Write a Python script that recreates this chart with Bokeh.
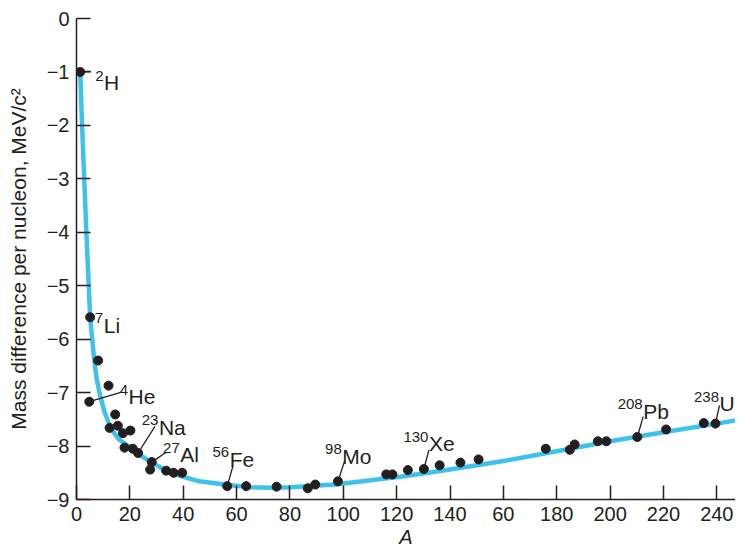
from bokeh.plotting import figure
from bokeh.models import FixedTicker, Range1d, ColumnDataSource
from bokeh.core.properties import value
from bokeh.embed import file_html
from bokeh.resources import INLINE

# ---- data ----
# measured nuclides: mass number A and mass difference per nucleon (MeV/c^2)
mass_A = [1.4, 5.1, 8.1, 4.8, 12.0, 12.4, 14.5, 15.5, 17.4, 20.2, 18.0, 21.1,
          23.1, 28.2, 27.6, 33.6, 36.4, 39.6, 56.5, 63.6, 75.0, 86.7, 89.5,
          98.0, 116.1, 118.4, 124.2, 130.2, 136.1, 143.9, 150.7, 175.9, 184.9,
          186.7, 195.4, 198.6, 210.2, 221.0, 235.1, 239.5]
mass_diff = [-1.0, -5.59, -6.40, -7.17, -6.87, -7.66, -7.41, -7.62, -7.76, -7.71,
             -8.03, -8.05, -8.13, -8.30, -8.44, -8.46, -8.50, -8.50, -8.75, -8.75,
             -8.76, -8.79, -8.72, -8.66, -8.53, -8.53, -8.45, -8.43, -8.36, -8.31,
             -8.25, -8.05, -8.07, -7.97, -7.91, -7.91, -7.83, -7.69, -7.57, -7.58]

# smooth trend curve
curve_A = [1.4, 2.1, 2.9, 3.7, 4.6, 5.1, 5.9, 6.6, 7.6, 8.6, 10.6, 13.1, 16.0,
           19.5, 23.1, 28.2, 35.0, 46.0, 57.0, 65.0, 72.0, 80.0, 97.0, 122.0,
           140.0, 160.0, 182.0, 200.0, 220.0, 240.0, 247.0]
curve_E = [-1.0, -2.0, -3.0, -4.0, -5.0, -5.59, -6.0, -6.38, -6.75, -7.0, -7.38,
           -7.69, -7.88, -8.0, -8.14, -8.31, -8.50, -8.66, -8.73, -8.77, -8.78,
           -8.77, -8.72, -8.57, -8.44, -8.28, -8.08, -7.91, -7.74, -7.58, -7.52]

# labelled nuclides
iso_mass = ["2", "7", "4", "23", "27", "56", "98", "130", "208", "238"]
iso_sym = ["H", "Li", "He", "Na", "Al", "Fe", "Mo", "Xe", "Pb", "U"]
iso_idx = [0, 1, 3, 12, 13, 18, 23, 27, 36, 39]

x_ticks = [0, 20, 40, 60, 80, 100, 120, 140, 160, 180, 200, 220, 240]
x_tick_labels = ["0", "20", "40", "60", "80", "100", "120", "140", "60",
                 "180", "200", "220", "240"]
y_ticks = [0, -1, -2, -3, -4, -5, -6, -7, -8, -9]
y_tick_labels = ["0", "\u22121", "\u22122", "\u22123", "\u22124", "\u22125",
                 "\u22126", "\u22127", "\u22128", "\u22129"]

# ---- layout of annotations (positions in data units) ----
lab_x = [10.3, 10.2, 19.5, 30.9, 38.9, 57.4, 99.6, 132.1, 212.4, 241.0]
lab_y = [-1.20, -5.74, -7.08, -7.65, -8.16, -8.25, -8.19, -7.96, -7.35, -7.21]
lead_x1 = [5.4, None, 16.9, 29.4, 33.5, 58.6, 100.5, 132.1, 212.4, 241.0]
lead_y1 = [-1.0, None, -6.99, -7.63, -8.12, -8.38, -8.28, -8.07, -7.45, -7.24]

INK = "#231F20"
BLUE = "#3DC2EE"
FONT = "Liberation Sans"

p = figure(width=735, height=553, output_backend="svg", toolbar_location=None,
           x_range=Range1d(0, 247), y_range=Range1d(-9, 0),
           min_border_left=76, min_border_right=0, min_border_top=18,
           min_border_bottom=54)
p.outline_line_color = None
p.grid.visible = False
p.background_fill_color = "white"
p.border_fill_color = "white"

for ax in (p.xaxis[0], p.yaxis[0]):
    ax.axis_line_color = INK
    ax.axis_line_width = 1.5
    ax.major_tick_line_color = INK
    ax.major_tick_line_width = 1.5
    ax.major_tick_in = 14
    ax.major_tick_out = 0
    ax.minor_tick_line_color = None
    ax.major_label_text_font = FONT
    ax.major_label_text_font_size = "20px"
    ax.major_label_text_color = INK

p.xaxis.ticker = FixedTicker(ticks=x_ticks)
p.xaxis.major_label_overrides = {t: l for t, l in zip(x_ticks, x_tick_labels)}
p.xaxis.major_label_standoff = 7
p.xaxis.axis_label = "A"
p.xaxis.axis_label_text_font = FONT
p.xaxis.axis_label_text_font_style = "italic"
p.xaxis.axis_label_text_font_size = "20px"
p.xaxis.axis_label_text_color = INK
p.xaxis.axis_label_standoff = 2

p.yaxis.ticker = FixedTicker(ticks=y_ticks)
p.yaxis.major_label_overrides = {t: l for t, l in zip(y_ticks, y_tick_labels)}
p.yaxis.major_label_standoff = 7
p.yaxis.axis_label = "Mass difference per nucleon, MeV/c\u00b2"
p.yaxis.axis_label_text_font = FONT
p.yaxis.axis_label_text_font_style = "normal"
p.yaxis.axis_label_text_font_size = "21px"
p.yaxis.axis_label_text_color = INK
p.yaxis.axis_label_standoff = 14

# curve
p.line(curve_A, curve_E, line_color=BLUE, line_width=4.5, line_join="round")

# leader lines
sx0, sy0, sx1, sy1 = [], [], [], []
for k, i in enumerate(iso_idx):
    if lead_x1[k] is None:
        continue
    sx0.append(mass_A[i]); sy0.append(mass_diff[i])
    sx1.append(lead_x1[k]); sy1.append(lead_y1[k])
p.segment(x0=sx0, y0=sy0, x1=sx1, y1=sy1, line_color=INK, line_width=1.3)

# points
p.scatter(mass_A, mass_diff, size=9, fill_color=INK, line_color=INK)

# labels: element symbol and superscripted mass number
src = ColumnDataSource(dict(x=lab_x, y=lab_y, sym=iso_sym, mass=iso_mass))
p.text(x="x", y="y", text="sym", source=src, text_font=value(FONT),
       text_font_size="21px", text_color=INK, text_align="left",
       text_baseline="alphabetic")
p.text(x="x", y="y", text="mass", source=src, text_font=value(FONT),
       text_font_size="15px", text_color=INK, text_align="right",
       text_baseline="alphabetic", x_offset=-0.5, y_offset=-7)

open("out.html", "w").write(file_html(p, INLINE))
